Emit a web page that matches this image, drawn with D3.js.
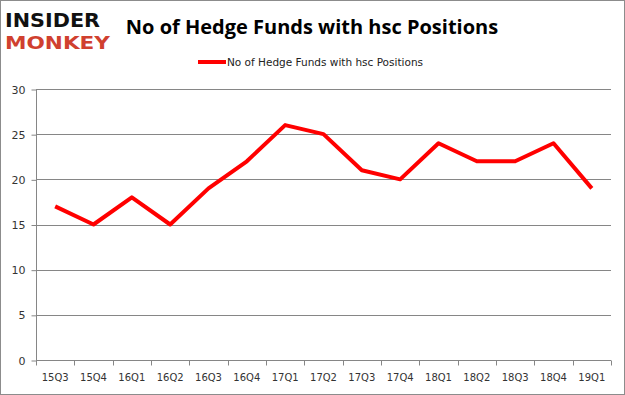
<!DOCTYPE html>
<html><head><meta charset="utf-8">
<script src="https://cdn.jsdelivr.net/npm/d3@7"></script>
<style>body{margin:0;background:#fff}svg{display:block}</style>
</head><body>
<script>
const categories = ["15Q3","15Q4","16Q1","16Q2","16Q3","16Q4","17Q1","17Q2","17Q3","17Q4","18Q1","18Q2","18Q3","18Q4","19Q1"];
const values = [17,15,18,15,19,22,26,25,21,20,24,22,22,24,19];
const yTicks = [0,5,10,15,20,25,30];
const seriesName = "No of Hedge Funds with hsc Positions";
const title = "No of Hedge Funds with hsc Positions";

(function(){
const W = 625, H = 395;
const svg = d3.select("body").append("svg").attr("width", W).attr("height", H);
svg.append("rect").attr("x",0.5).attr("y",0.5).attr("width",W-1).attr("height",H-1)
  .attr("fill","#fff").attr("stroke","#8c8c8c");

const pl = 36, pr = 611, pt = 89, pb = 360;
const x = d3.scaleBand().domain(categories).range([pl, pr]);
const y = d3.scaleLinear().domain([0,30]).range([pb, pt]);

// gridlines
svg.append("g").selectAll("line").data(yTicks.filter(d=>d>0)).join("line")
  .attr("x1", pl).attr("x2", pr)
  .attr("y1", d=>Math.round(y(d))+0.5).attr("y2", d=>Math.round(y(d))+0.5)
  .attr("stroke","#868686").attr("stroke-width",1);

// y axis
const yAxis = svg.append("g").attr("transform",`translate(${pl+0.5},0.5)`)
  .call(d3.axisLeft(y).tickValues(yTicks).tickSize(5).tickPadding(6));
yAxis.select(".domain").attr("stroke","#868686").attr("d",`M0,${pt}V${pb}`);
yAxis.selectAll(".tick line").attr("stroke","#868686");
yAxis.selectAll(".tick text").attr("fill","#333").style("font-family","DejaVu Sans, Verdana, sans-serif").style("font-size","11px");

// x axis
const xg = svg.append("g").attr("transform",`translate(0,${pb+0.5})`);
xg.append("line").attr("x1",pl).attr("x2",pr).attr("stroke","#868686");
const bounds = categories.map(c=>x(c)).concat([pr]);
xg.selectAll("line.t").data(bounds).join("line").attr("class","t")
  .attr("x1",d=>Math.round(d)+0.5).attr("x2",d=>Math.round(d)+0.5).attr("y1",0).attr("y2",5)
  .attr("stroke","#868686");
xg.selectAll("text").data(categories).join("text")
  .attr("x",d=>x(d)+x.bandwidth()/2).attr("y",20)
  .attr("text-anchor","middle").attr("fill","#333")
  .style("font-family","DejaVu Sans, Verdana, sans-serif").style("font-size","10px")
  .text(d=>d);

// line
const line = d3.line().x((d,i)=>x(categories[i])+x.bandwidth()/2).y(d=>y(d));
svg.append("path").datum(values).attr("d",line).attr("fill","none")
  .attr("stroke","#ff0000").attr("stroke-width",4).attr("stroke-linejoin","round");

// title
svg.append("text").attr("x",312).attr("y",34).attr("text-anchor","middle")
  .style("font-family","Open Sans, Liberation Sans, sans-serif").style("font-weight","bold").style("font-size","20px")
  .attr("fill","#000").text(title);

// legend
svg.append("line").attr("x1",198).attr("x2",226).attr("y1",62).attr("y2",62)
  .attr("stroke","#ff0000").attr("stroke-width",4);
svg.append("text").attr("x",227).attr("y",66)
  .style("font-family","DejaVu Sans, Verdana, sans-serif").style("font-size","10.5px")
  .attr("fill","#222").text(seriesName);

// logo
svg.append("text").attr("x",5).attr("y",27).attr("textLength",95).attr("lengthAdjust","spacingAndGlyphs")
  .style("font-family","DejaVu Sans, sans-serif").style("font-weight","bold").style("font-size","19px")
  .attr("fill","#111").text("INSIDER");
svg.append("text").attr("x",5).attr("y",49).attr("textLength",105).attr("lengthAdjust","spacingAndGlyphs")
  .style("font-family","DejaVu Sans, sans-serif").style("font-weight","bold").style("font-size","18px")
  .attr("fill","#d0402f").text("MONKEY");
})();
</script>
</body></html>
